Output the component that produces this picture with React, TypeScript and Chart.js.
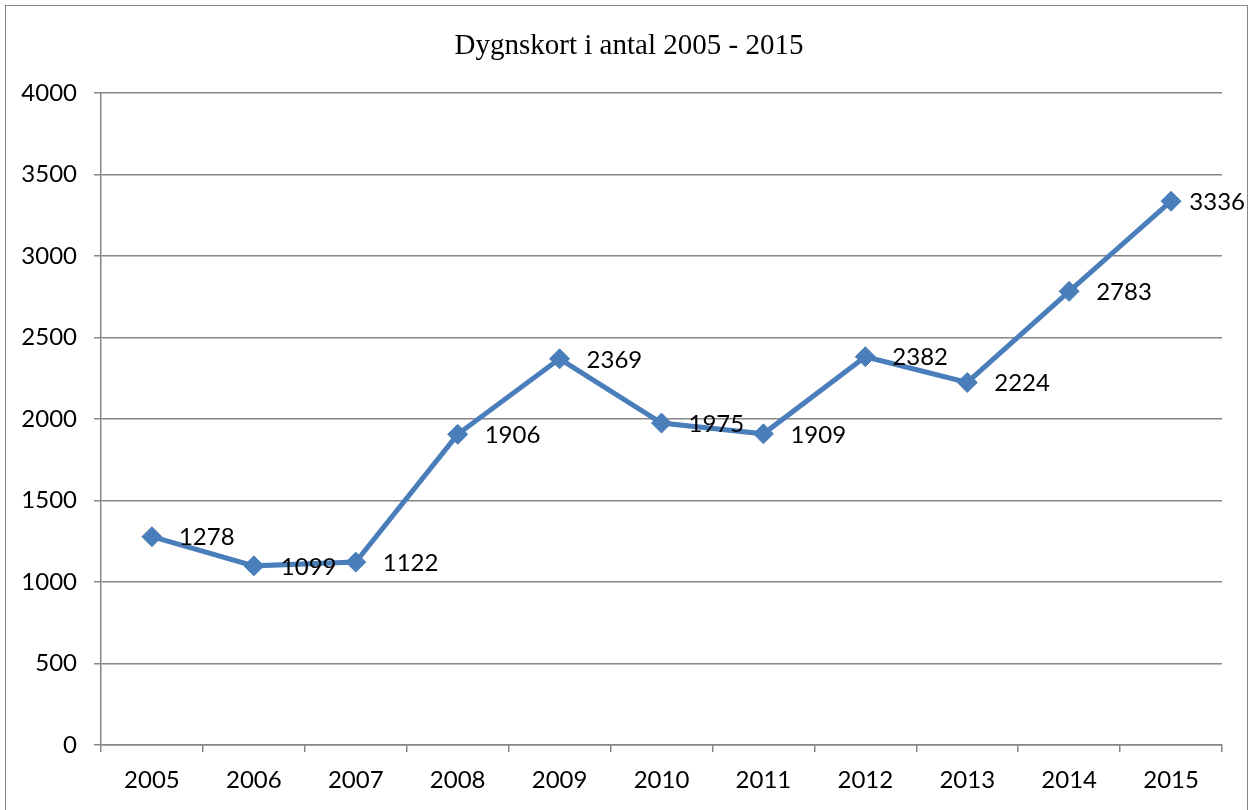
import React, { useEffect, useRef } from "react";
import { Chart, registerables } from "chart.js";

Chart.register(...registerables);

const TITLE = "Dygnskort i antal 2005 - 2015";
const years = ["2005", "2006", "2007", "2008", "2009", "2010", "2011", "2012", "2013", "2014", "2015"];
const cards = [1278, 1099, 1122, 1906, 2369, 1975, 1909, 2382, 2224, 2783, 3336];
const yTicks = [0, 500, 1000, 1500, 2000, 2500, 3000, 3500, 4000];

const FONT = "Lato";
const LINE_COLOR = "#4A7EBB";
const GRID_COLOR = "#868686";

const overlayPlugin = {
  id: "overlay",
  afterDatasetsDraw(chart: any) {
    const ctx = chart.ctx;
    const meta = chart.getDatasetMeta(0);
    ctx.save();
    ctx.fillStyle = "#000";
    ctx.font = `24px ${FONT}`;
    ctx.textAlign = "left";
    ctx.textBaseline = "middle";
    meta.data.forEach((pt: any, i: number) => {
      const txt = String(cards[i]);
      const w = ctx.measureText(txt).width;
      const x = Math.min(pt.x + 27, 1245 - w);
      ctx.fillText(txt, x, pt.y + 1);
    });
    ctx.font = `29px "Liberation Serif", "Times New Roman", serif`;
    ctx.textAlign = "center";
    ctx.fillText(TITLE, 629, 46);
    ctx.restore();
  },
};

export default function App() {
  const ref = useRef<HTMLCanvasElement | null>(null);
  useEffect(() => {
    document.body.style.margin = "0";
    const chart = new Chart(ref.current as HTMLCanvasElement, {
      type: "line",
      data: {
        labels: years,
        datasets: [
          {
            data: cards,
            borderColor: LINE_COLOR,
            backgroundColor: LINE_COLOR,
            borderWidth: 5,
            pointStyle: "rectRot",
            pointRadius: 10,
            pointBorderWidth: 1,
            pointBackgroundColor: LINE_COLOR,
            pointBorderColor: LINE_COLOR,
            tension: 0,
          },
        ],
      },
      options: {
        responsive: false,
        animation: false,
        layout: { padding: { top: 93, left: 0, right: 30, bottom: 0 } },
        plugins: { legend: { display: false }, title: { display: false }, tooltip: { enabled: false } },
        scales: {
          x: {
            offset: true,
            grid: { offset: true, drawOnChartArea: false, drawTicks: true, tickLength: 7, color: GRID_COLOR, lineWidth: 1.5 },
            border: { color: GRID_COLOR, width: 1.5 },
            ticks: { color: "#000", font: { family: FONT, size: 24 }, padding: 14, maxRotation: 0 },
            afterFit: (s: any) => { s.height = 65; },
          },
          y: {
            min: 0,
            max: 4000,
            afterBuildTicks: (s: any) => { s.ticks = yTicks.map((v) => ({ value: v })); },
            grid: { color: GRID_COLOR, lineWidth: 1.5, tickLength: 7 },
            border: { color: GRID_COLOR, width: 1.5 },
            ticks: { color: "#000", font: { family: FONT, size: 24 }, padding: 17, callback: (v: any) => String(v) },
            afterFit: (s: any) => { s.width = 101; },
          },
        },
      },
      plugins: [overlayPlugin],
    });
    return () => chart.destroy();
  }, []);
  return (
    <div style={{ position: "fixed", left: 0, top: 0, width: 1252, height: 810, background: "#fff" }}>
      <div
        style={{
          position: "absolute",
          left: 5,
          top: 5,
          width: 1243,
          height: 820,
          border: "1.5px solid #868686",
          boxSizing: "border-box",
        }}
      />
      <canvas ref={ref} width={1252} height={810} style={{ position: "absolute", left: 0, top: 0 }} />
    </div>
  );
}
